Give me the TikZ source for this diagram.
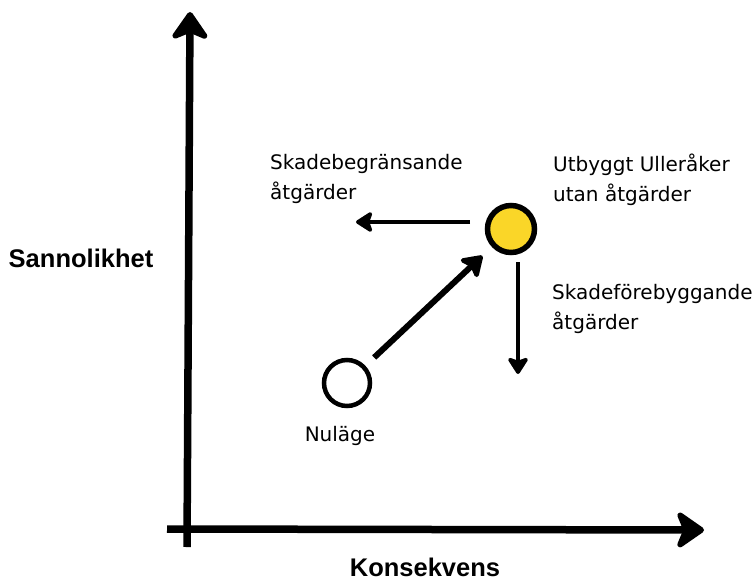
\documentclass[tikz,border=0pt]{standalone}
\usepackage{fontspec}
\setmainfont{Liberation Sans}
\newfontfamily\labelfont{DejaVu Sans}
\usetikzlibrary{arrows.meta}

\tikzset{
  axis/.style={line width=7.5pt,-{Stealth[length=32pt,width=44pt,inset=9pt,round]}},
  move/.style={line width=6pt,-{Stealth[length=23pt,width=30pt,inset=5pt,round]}},
  measure/.style={line width=3.6pt,-{Stealth[length=19pt,width=24pt,inset=4pt,round]}},
  txt/.style={align=left,font=\labelfont\fontsize{20}{30}\selectfont,inner sep=0pt},
  ttl/.style={font=\bfseries\fontsize{25.5}{30}\selectfont,inner sep=0pt}
}

\begin{document}
\begin{tikzpicture}[x=1pt,y=-1pt]
\useasboundingbox (0,0) rectangle (754,583);

% axes
\coordinate (o1) at (187,547);
\coordinate (ytip) at (190,12);
\coordinate (o2) at (167,529);
\coordinate (xtip) at (704,530);
\draw[axis] (o1) -- (ytip);
\draw[axis] (o2) -- (xtip);

\node[ttl] (sann) at (81,258) {Sannolikhet};
\node[ttl] (kons) at (425,567) {Konsekvens};

% states
\node[draw,circle,line width=4.5pt,minimum size=46pt,inner sep=0pt] (nu) at (347,383) {};
\node[draw,circle,line width=5.5pt,fill={rgb,255:red,250;green,214;blue,40},minimum size=47pt,inner sep=0pt] (ub) at (511,229) {};

\node[txt] (nutxt) at (340,436) {Nuläge};
\node[txt,anchor=north west] (ubtxt) at (553,154) {Utbyggt Ulleråker\\utan åtgärder};
\node[txt,anchor=north west] (begr) at (270,154) {Skadebegränsande\\åtgärder};
\node[txt,anchor=north west] (foreb) at (552,284) {Skadeförebyggande\\åtgärder};

% measures
\draw[move,shorten <=12pt,shorten >=13pt] (nu) -- (ub);
\coordinate (lstart) at (470,222);
\coordinate (lend) at (356,222);
\draw[measure] (lstart) -- (lend);
\coordinate (dstart) at (518,262);
\coordinate (dend) at (518,374);
\draw[measure] (dstart) -- (dend);

\end{tikzpicture}
\end{document}
